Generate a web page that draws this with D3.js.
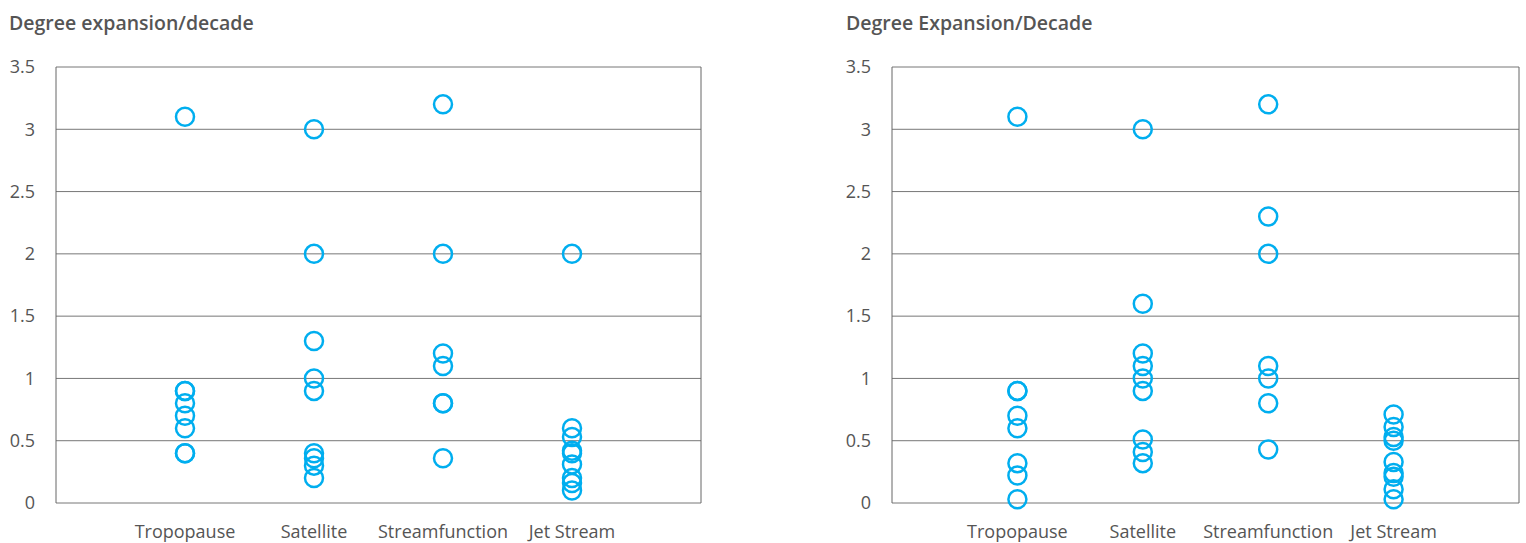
<!DOCTYPE html>
<html>
<head>
<meta charset="utf-8">
<script src="https://cdn.jsdelivr.net/npm/d3@7"></script>
<style>
  html, body { margin: 0; padding: 0; background: #fff; }
  svg { display: block; }
  text { font-family: "Open Sans", "Noto Sans", sans-serif; fill: #555; }
</style>
</head>
<body>
<svg id="chart" width="1526" height="543"></svg>
<script>
// Categories shared by both panels
const categories = ["Tropopause", "Satellite", "Streamfunction", "Jet Stream"];
const yTicks = [0, 0.5, 1, 1.5, 2, 2.5, 3, 3.5];

// Left panel: degree expansion per decade by method
const leftTitle = "Degree expansion/decade";
const leftTropopause = [3.1, 0.9, 0.9, 0.8, 0.7, 0.6, 0.4, 0.4];
const leftSatellite = [3.0, 2.0, 1.3, 1.0, 0.9, 0.4, 0.36, 0.3, 0.2];
const leftStreamfunction = [3.2, 2.0, 1.2, 1.1, 0.8, 0.8, 0.36];
const leftJetStream = [2.0, 0.6, 0.53, 0.42, 0.4, 0.31, 0.2, 0.16, 0.1];

// Right panel
const rightTitle = "Degree Expansion/Decade";
const rightTropopause = [3.1, 0.9, 0.9, 0.7, 0.6, 0.32, 0.22, 0.03];
const rightSatellite = [3.0, 1.6, 1.2, 1.1, 1.0, 0.9, 0.51, 0.41, 0.32];
const rightStreamfunction = [3.2, 2.3, 2.0, 1.1, 1.0, 0.8, 0.43];
const rightJetStream = [0.71, 0.61, 0.53, 0.5, 0.33, 0.24, 0.21, 0.11, 0.03];

const svg = d3.select("#chart");

function drawPanel(opts) {
  const { title, series, x0, x1, titleX } = opts;
  const top = 67, bottom = 503;
  const g = svg.append("g");

  const y = d3.scaleLinear().domain([0, 3.5]).range([bottom, top]);
  const x = d3.scalePoint().domain(categories).range([x0, x1]).padding(1);

  g.append("text")
    .attr("x", titleX).attr("y", 30)
    .attr("font-size", 19.5).attr("font-weight", 600)
    .text(title);

  // horizontal gridlines
  g.selectAll("line.grid").data(yTicks).join("line")
    .attr("class", "grid")
    .attr("x1", x0).attr("x2", x1)
    .attr("y1", d => y(d)).attr("y2", d => y(d))
    .attr("stroke", "#777").attr("stroke-width", 1);

  // frame sides
  g.append("line").attr("x1", x0).attr("x2", x0).attr("y1", top).attr("y2", bottom)
    .attr("stroke", "#666");
  g.append("line").attr("x1", x1).attr("x2", x1).attr("y1", top).attr("y2", bottom)
    .attr("stroke", "#666");

  // y tick labels
  g.selectAll("text.ytick").data(yTicks).join("text")
    .attr("class", "ytick")
    .attr("x", x0 - 21).attr("y", d => y(d))
    .attr("dy", "0.35em")
    .attr("text-anchor", "end")
    .attr("font-size", 18)
    .text(d => d);

  // category labels
  g.selectAll("text.cat").data(categories).join("text")
    .attr("class", "cat")
    .attr("x", d => x(d)).attr("y", 538)
    .attr("text-anchor", "middle")
    .attr("font-size", 18)
    .text(d => d);

  // points
  const pts = [];
  categories.forEach((c, i) => series[i].forEach(v => pts.push({ c, v })));
  g.selectAll("circle").data(pts).join("circle")
    .attr("cx", d => x(d.c)).attr("cy", d => y(d.v))
    .attr("r", 9)
    .attr("fill", "none")
    .attr("stroke", "#00aeef")
    .attr("stroke-width", 2.5);
}

drawPanel({
  title: leftTitle,
  series: [leftTropopause, leftSatellite, leftStreamfunction, leftJetStream],
  x0: 56, x1: 701, titleX: 9
});
drawPanel({
  title: rightTitle,
  series: [rightTropopause, rightSatellite, rightStreamfunction, rightJetStream],
  x0: 892, x1: 1519, titleX: 846
});
</script>
</body>
</html>
